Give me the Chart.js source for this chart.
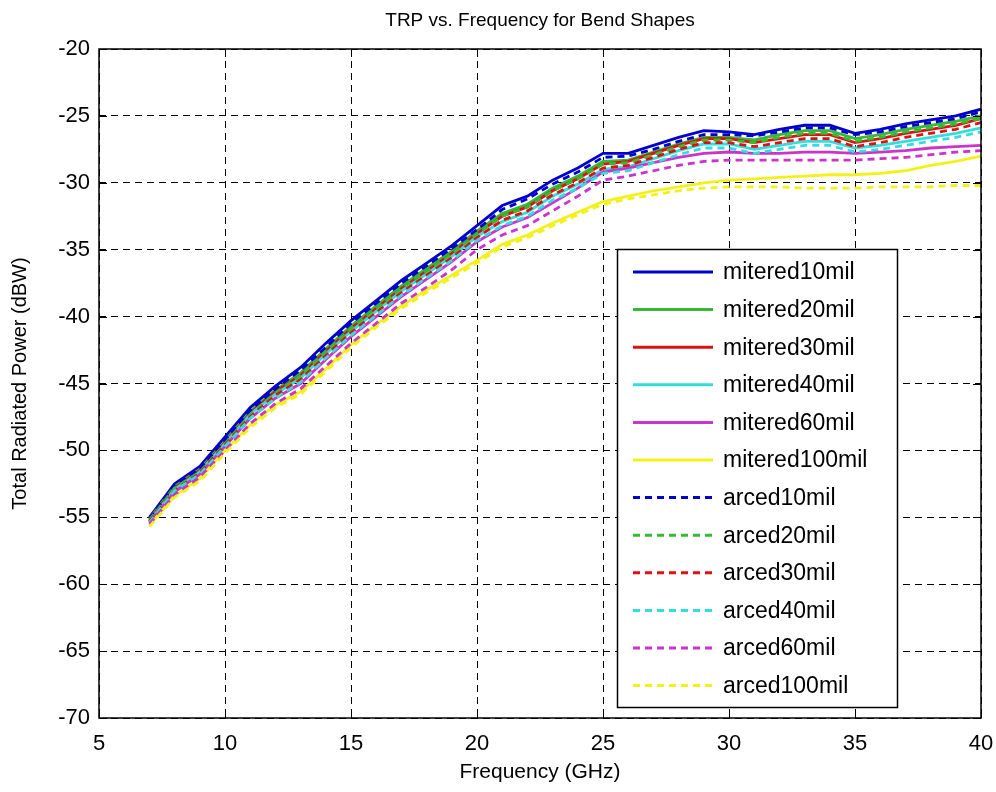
<!DOCTYPE html>
<html><head><meta charset="utf-8">
<script src="https://cdn.jsdelivr.net/npm/chart.js@4/dist/chart.umd.min.js"></script>
<style>html,body{margin:0;padding:0;background:#fff}#wrap{width:996px;height:792px}</style>
</head><body><div id="wrap"><canvas id="c" width="996" height="792"></canvas></div>
<script>
const freqGHz = [7,8,9,10,11,12,13,14,15,16,17,18,19,20,21,22,23,24,25,26,27,28,29,30,31,32,33,34,35,36,37,38,39,40];
const mitered10mil  = [-55.0,-52.5,-51.2,-49.0,-46.8,-45.2,-43.8,-42.0,-40.3,-38.8,-37.3,-36.0,-34.7,-33.2,-31.7,-31.0,-29.8,-28.9,-27.8,-27.8,-27.2,-26.6,-26.1,-26.2,-26.4,-26.0,-25.7,-25.7,-26.3,-26.0,-25.6,-25.3,-25.0,-24.5];
const mitered20mil  = [-55.1,-52.7,-51.4,-49.3,-47.1,-45.5,-44.2,-42.4,-40.7,-39.2,-37.7,-36.4,-35.1,-33.6,-32.3,-31.6,-30.4,-29.5,-28.4,-28.3,-27.7,-27.1,-26.6,-26.6,-26.8,-26.4,-26.1,-26.1,-26.7,-26.4,-26.0,-25.7,-25.4,-25.0];
const mitered30mil  = [-55.2,-52.8,-51.5,-49.4,-47.2,-45.6,-44.4,-42.6,-40.9,-39.4,-37.9,-36.6,-35.3,-33.8,-32.5,-31.8,-30.6,-29.7,-28.6,-28.4,-27.8,-27.2,-26.7,-26.7,-27.0,-26.7,-26.4,-26.4,-27.0,-26.7,-26.3,-26.0,-25.7,-25.2];
const mitered40mil  = [-55.3,-52.9,-51.6,-49.5,-47.3,-45.8,-44.6,-42.8,-41.1,-39.6,-38.1,-36.8,-35.5,-34.0,-32.9,-32.2,-31.0,-30.1,-29.0,-28.8,-28.2,-27.6,-27.1,-27.1,-27.5,-27.2,-26.9,-26.9,-27.4,-27.2,-26.9,-26.6,-26.3,-25.9];
const mitered60mil  = [-55.4,-53.1,-51.8,-49.7,-47.6,-46.1,-45.0,-43.2,-41.5,-40.0,-38.5,-37.2,-35.9,-34.4,-33.3,-32.6,-31.5,-30.4,-29.2,-28.9,-28.5,-28.1,-27.8,-27.7,-27.8,-27.8,-27.7,-27.7,-27.8,-27.7,-27.6,-27.4,-27.3,-27.2];
const mitered100mil = [-55.6,-53.4,-52.1,-50.0,-48.1,-46.6,-45.6,-43.9,-42.1,-40.6,-39.2,-38.0,-36.9,-35.8,-34.6,-33.9,-33.0,-32.2,-31.4,-31.0,-30.6,-30.3,-30.0,-29.8,-29.7,-29.6,-29.5,-29.4,-29.4,-29.3,-29.1,-28.7,-28.4,-28.0];
const arced10mil    = [-55.1,-52.6,-51.4,-49.2,-47.0,-45.4,-44.0,-42.3,-40.5,-39.0,-37.5,-36.2,-34.9,-33.5,-32.0,-31.2,-30.1,-29.2,-28.1,-28.0,-27.5,-26.9,-26.4,-26.4,-26.5,-26.2,-25.9,-25.9,-26.4,-26.2,-25.8,-25.5,-25.2,-24.7];
const arced20mil    = [-55.2,-52.8,-51.6,-49.5,-47.3,-45.7,-44.4,-42.6,-40.9,-39.4,-37.9,-36.6,-35.3,-33.8,-32.5,-31.8,-30.6,-29.7,-28.6,-28.5,-27.9,-27.3,-26.8,-26.8,-27.0,-26.6,-26.3,-26.3,-26.9,-26.6,-26.2,-25.9,-25.6,-25.2];
const arced30mil    = [-55.3,-53.0,-51.7,-49.6,-47.5,-45.9,-44.7,-42.9,-41.2,-39.7,-38.2,-36.9,-35.6,-34.1,-32.8,-32.1,-30.9,-30.0,-28.9,-28.7,-28.1,-27.5,-27.0,-27.0,-27.3,-27.0,-26.7,-26.7,-27.3,-27.0,-26.6,-26.3,-26.0,-25.5];
const arced40mil    = [-55.4,-53.0,-51.8,-49.7,-47.6,-46.1,-44.9,-43.1,-41.4,-39.9,-38.4,-37.1,-35.8,-34.3,-33.2,-32.5,-31.3,-30.4,-29.3,-29.1,-28.5,-27.9,-27.4,-27.4,-27.8,-27.5,-27.2,-27.2,-27.7,-27.5,-27.2,-26.9,-26.6,-26.2];
const arced60mil    = [-55.5,-53.3,-52.0,-50.0,-48.0,-46.5,-45.4,-43.7,-42.0,-40.5,-39.0,-37.8,-36.5,-35.0,-33.9,-33.2,-32.1,-31.0,-29.8,-29.5,-29.1,-28.7,-28.4,-28.3,-28.3,-28.3,-28.3,-28.3,-28.3,-28.2,-28.1,-27.9,-27.7,-27.6];
const arced100mil   = [-55.7,-53.5,-52.3,-50.2,-48.3,-46.8,-45.8,-44.1,-42.3,-40.8,-39.4,-38.2,-37.1,-36.0,-34.8,-34.1,-33.2,-32.4,-31.6,-31.2,-30.9,-30.6,-30.4,-30.3,-30.3,-30.3,-30.4,-30.4,-30.4,-30.3,-30.3,-30.3,-30.2,-30.2];

const seriesLabels = ['mitered10mil','mitered20mil','mitered30mil','mitered40mil','mitered60mil','mitered100mil','arced10mil','arced20mil','arced30mil','arced40mil','arced60mil','arced100mil'];
const seriesValues = [mitered10mil,mitered20mil,mitered30mil,mitered40mil,mitered60mil,mitered100mil,arced10mil,arced20mil,arced30mil,arced40mil,arced60mil,arced100mil];
const xTicks = [5,10,15,20,25,30,35,40];
const yTicks = [-70,-65,-60,-55,-50,-45,-40,-35,-30,-25,-20];

const palette = ['#0000cc','#33bb33','#dd1111','#33dddd','#cc33cc','#f2f21a'];
const FONT = '"Liberation Sans", Arial, sans-serif';

const datasets = seriesLabels.map((name, i) => ({
  label: name,
  data: freqGHz.map((f, k) => ({x: f, y: seriesValues[i][k]})),
  borderColor: palette[i % 6],
  backgroundColor: palette[i % 6],
  borderWidth: 2.8,
  borderDash: i >= 6 ? [7, 5] : [],
  pointRadius: 0,
  tension: 0,
  fill: false,
  order: seriesLabels.length - i
}));

const boxPlugin = {
  id: 'boxPlugin',
  afterDraw(chart) {
    const {ctx, chartArea: a, scales} = chart;
    ctx.save();
    ctx.strokeStyle = '#000';
    ctx.lineWidth = 1;
    ctx.setLineDash([]);
    ctx.beginPath();
    xTicks.forEach(v => {
      const px = Math.round(scales.x.getPixelForValue(v)) + 0.5;
      ctx.moveTo(px, a.bottom); ctx.lineTo(px, a.bottom - 8);
      ctx.moveTo(px, a.top); ctx.lineTo(px, a.top + 8);
    });
    yTicks.forEach(v => {
      const py = Math.round(scales.y.getPixelForValue(v)) + 0.5;
      ctx.moveTo(a.left, py); ctx.lineTo(a.left + 8, py);
      ctx.moveTo(a.right, py); ctx.lineTo(a.right - 8, py);
    });
    ctx.stroke();
    const lx = 617, ly = 249, lw = 280, lh = 458;
    ctx.fillStyle = '#fff';
    ctx.fillRect(lx, ly, lw, lh);
    ctx.lineWidth = 1.5;
    ctx.strokeRect(lx + 0.5, ly + 0.5, lw, lh);
    ctx.font = '23px ' + FONT;
    ctx.textBaseline = 'middle';
    ctx.textAlign = 'left';
    chart.data.datasets.forEach((ds, i) => {
      const y = 272 + i * 37.6;
      ctx.beginPath();
      ctx.strokeStyle = ds.borderColor;
      ctx.lineWidth = 3;
      ctx.setLineDash(ds.borderDash);
      ctx.moveTo(633, y); ctx.lineTo(713, y);
      ctx.stroke();
      ctx.setLineDash([]);
      ctx.fillStyle = '#000';
      ctx.fillText(ds.label, 723, y + 1);
    });
    ctx.strokeStyle = '#000';
    ctx.lineWidth = 1.5;
    ctx.strokeRect(a.left, a.top, a.right - a.left, a.bottom - a.top);
    ctx.restore();
  }
};

new Chart(document.getElementById('c'), {
  type: 'line',
  data: {datasets},
  plugins: [boxPlugin],
  options: {
    responsive: false,
    animation: false,
    devicePixelRatio: 1,
    layout: {padding: {top: 0, left: 0, right: 15, bottom: 0}},
    plugins: {
      legend: {display: false},
      tooltip: {enabled: false},
      title: {
        display: true,
        fullSize: false,
        text: 'TRP vs. Frequency for Bend Shapes',
        color: '#000',
        font: {family: FONT, size: 19, weight: 'normal'},
        padding: {top: 9, bottom: 17.2}
      }
    },
    scales: {
      x: {
        type: 'linear', min: 5, max: 40,
        afterBuildTicks(s) { s.ticks = xTicks.map(v => ({value: v})); },
        afterFit(s) { s.height = 74; s.paddingLeft = 0; s.paddingRight = 0; },
        ticks: {color: '#000', font: {family: FONT, size: 22}, padding: 13, maxRotation: 0, autoSkip: false},
        grid: {color: '#000', lineWidth: 1, drawTicks: false},
        border: {display: false, dash: [7, 5]},
        title: {display: true, text: 'Frequency (GHz)', color: '#000', font: {family: FONT, size: 21}, padding: {top: 0, bottom: 7}}
      },
      y: {
        type: 'linear', min: -70, max: -20,
        afterBuildTicks(s) { s.ticks = yTicks.map(v => ({value: v})); },
        afterFit(s) { s.width = 99; s.paddingTop = 0; s.paddingBottom = 0; },
        ticks: {color: '#000', font: {family: FONT, size: 22}, padding: 9, autoSkip: false},
        grid: {color: '#000', lineWidth: 1, drawTicks: false},
        border: {display: false, dash: [7, 5]},
        title: {display: true, text: 'Total Radiated Power (dBW)', color: '#000', font: {family: FONT, size: 20}, padding: {top: 8, bottom: 0}}
      }
    }
  }
});
</script></body></html>
